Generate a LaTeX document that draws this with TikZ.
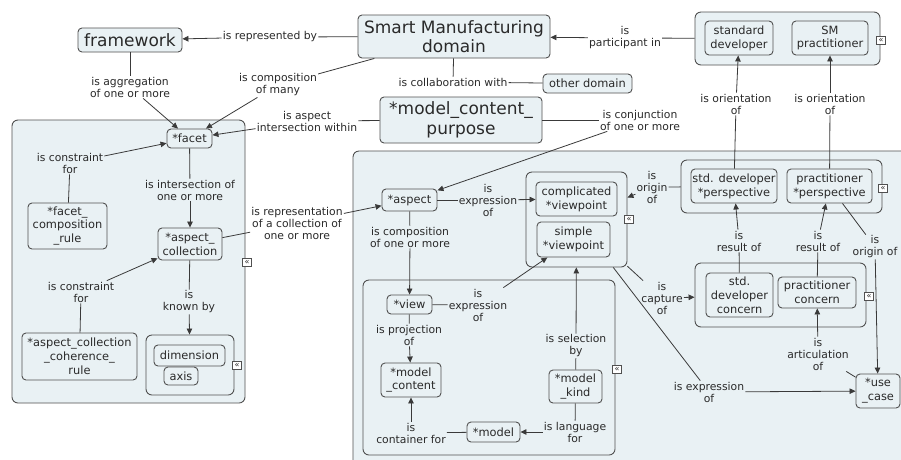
\documentclass[tikz,border=0pt]{standalone}
\usepackage{fontspec}
\setmainfont{DejaVu Sans}
\usetikzlibrary{arrows.meta}

\definecolor{boxfill}{HTML}{E9F1F4}
\definecolor{edgecol}{HTML}{505050}
\definecolor{linecol}{HTML}{3A3A3A}
\definecolor{ink}{HTML}{2A2A2A}

\begin{document}
\begin{tikzpicture}[x=1pt,y=-1pt,
  wh/.style 2 args={minimum width=#1pt, minimum height=#2pt},
  concept/.style={draw=edgecol, fill=boxfill, rounded corners=4pt, line width=0.9pt,
    align=center, inner sep=0pt, text=ink, font=\fontsize{11.4}{13.8}\selectfont},
  bigtext/.style={font=\fontsize{17}{19.5}\selectfont},
  grp/.style={draw=edgecol, fill=boxfill, rounded corners=6pt, line width=0.9pt, inner sep=0pt},
  lbl/.style={align=center, inner sep=1pt, text=ink, font=\fontsize{10.8}{12}\selectfont},
  icon/.style={draw=edgecol, fill=white, line width=0.5pt, minimum width=9pt, minimum height=8pt,
    inner sep=0pt, text=ink, font=\fontsize{8}{8}\selectfont},
  conn/.style={draw=linecol, line width=0.8pt},
  arr/.style={-{Triangle[length=6pt,width=5.5pt]}}
]
\useasboundingbox (0,0) rectangle (901,459);
\clip (0,0) rectangle (901,459);
\fill[white] (0,0) rectangle (901,459);

% ---- containers ----
\draw[grp] (353,151) rectangle (930,490);
\node[grp, wh={233}{283}] (leftc) at (128.5,261.5) {};
\node[icon] (ic1) at (247,262) {«};

% ---- top row ----
\node[concept, bigtext, wh={104}{24}] (fw) at (130,40) {framework};
\node[concept, bigtext, wh={192}{43}] (smd) at (454,36.5) {Smart Manufacturing\\domain};
\node[concept, wh={89}{19}] (other) at (587.5,83.5) {other domain};
\node[concept, bigtext, wh={162}{46}] (mcp) at (461,120) {*model\_content\_\\purpose};

\node[grp, wh={185}{53}] (sgrp) at (787.5,38.5) {};
\node[icon] (ic2) at (881,40) {«};
\node[concept, wh={68}{34}] (stddev) at (739,38) {standard\\developer};
\node[concept, wh={76}{34}] (smprac) at (830,38) {SM\\practitioner};

\node[lbl] (lrep) at (270,37) {is represented by};
\node[lbl] (lpart) at (625,38) {is\\participant in};
\node[lbl] (lcollab) at (453,82) {is collaboration with};
\node[lbl] (lagg) at (130,87) {is aggregation\\of one or more};
\node[lbl] (lcompm) at (278,85) {is composition\\of many};
\node[lbl] (laspi) at (307,121) {is aspect\\intersection within};
\node[lbl] (lconj) at (640,120) {is conjunction\\of one or more};

% ---- left container ----
\node[concept, wh={45}{19}] (facet) at (189.5,138.5) {*facet};
\node[concept, wh={79}{46}] (fcr) at (67.5,226) {*facet\_\\composition\\\_rule};
\node[concept, wh={64}{32}] (acoll) at (190,244) {*aspect\_\\collection};
\node[concept, wh={115}{47}] (accr) at (79.5,356.5) {*aspect\_collection\\\_coherence\_\\rule};
\node[grp, wh={88}{60}] (dgrp) at (190,365) {};
\node[icon] (ic3) at (237,365) {«};
\node[concept, wh={71}{21}] (dim) at (189.5,355.5) {dimension};
\node[concept, wh={34}{18}] (axis) at (181,376) {axis};

\node[lbl] (lcf1) at (70,163) {is constraint\\for};
\node[lbl] (linter) at (190,190) {is intersection of\\one or more};
\node[lbl] (lreprc) at (297,223) {is representation\\of a collection of\\one or more};
\node[lbl] (lcf2) at (81,292) {is constraint\\for};
\node[lbl] (lknown) at (189,302) {is\\known by};

% ---- right container ----
\node[concept, wh={55}{22}] (aspect) at (409.5,200) {*aspect};

\node[grp, wh={101}{95}] (vgrp) at (576.5,219.5) {};
\node[icon] (ic4) at (629,219) {«};
\node[concept, wh={81}{34}] (cvp) at (576.5,199) {complicated\\*viewpoint};
\node[concept, wh={73}{35}] (svp) at (573.5,239.5) {simple\\*viewpoint};

\node[grp, wh={201}{53}] (pgrp) at (781.5,186.5) {};
\node[icon] (ic5) at (883,188) {«};
\node[concept, wh={86}{34}] (sdp) at (734,186) {std. developer\\*perspective};
\node[concept, wh={85}{34}] (pp) at (829.5,186) {practitioner\\*perspective};

\node[grp, wh={171}{64}] (cgrp) at (780.5,295) {};
\node[icon] (ic6) at (869,296) {«};
\node[concept, wh={67}{44}] (sdc) at (739.5,295) {std.\\developer\\concern};
\node[concept, wh={78}{31}] (pc) at (817,292.5) {practitioner\\concern};

\node[concept, wh={44}{34}] (uc) at (878,391) {*use\\\_case};

\node[grp, wh={252}{175}] (viewgrp) at (489,367.5) {};
\node[icon] (ic7) at (617,369) {«};
\node[concept, wh={45}{19}] (view) at (409.5,304.5) {*view};
\node[concept, wh={60}{34}] (mc) at (411,380) {*model\\\_content};
\node[concept, wh={53}{20}] (model) at (493.5,432) {*model};
\node[concept, wh={53}{33}] (mk) at (575.5,386.5) {*model\\\_kind};

\node[lbl] (lexp1) at (488,200) {is\\expression\\of};
\node[lbl] (lorig1) at (652,187) {is\\origin\\of};
\node[lbl] (lor1) at (736,104) {is orientation\\of};
\node[lbl] (lor2) at (830,104) {is orientation\\of};
\node[lbl] (lres1) at (739,241) {is\\result of};
\node[lbl] (lres2) at (818,241) {is\\result of};
\node[lbl] (lorig2) at (875,247) {is\\origin of};
\node[lbl] (lcap) at (662,298) {is\\capture\\of};
\node[lbl] (lexp2) at (709,392) {is expression\\of};
\node[lbl] (lart) at (818,354) {is\\articulation\\of};
\node[lbl] (lcomp) at (410,237) {is composition\\of one or more};
\node[lbl] (lexp3) at (478,305) {is\\expression\\of};
\node[lbl] (lproj) at (409,335) {is projection\\of};
\node[lbl] (lcont) at (411,433) {is\\container for};
\node[lbl] (llang) at (575,432) {is language\\for};
\node[lbl] (lsel) at (576,346) {is selection\\by};

% ---- connectors ----
\draw[conn] (smd) -- (lrep);      \draw[conn,arr] (lrep) -- (fw);
\draw[conn] (sgrp) -- (lpart);    \draw[conn,arr] (lpart) -- (smd);
\draw[conn] (smd) -- (lcollab);   \draw[conn] (lcollab) -- (other);
\draw[conn] (fw) -- (lagg);       \draw[conn,arr] (lagg) -- (facet);
\draw[conn] (smd) -- (lcompm);    \draw[conn,arr] (lcompm) -- (facet);
\draw[conn] (mcp) -- (laspi);     \draw[conn,arr] (laspi) -- (facet);
\draw[conn] (mcp) -- (lconj);     \draw[conn,arr] (lconj) -- (aspect);

\draw[conn] (fcr) -- (lcf1);      \draw[conn,arr] (lcf1) -- (facet);
\draw[conn] (facet) -- (linter);  \draw[conn,arr] (linter) -- (acoll);
\draw[conn] (acoll) -- (lreprc);  \draw[conn,arr] (lreprc) -- (aspect);
\draw[conn] (accr) -- (lcf2);     \draw[conn,arr] (lcf2) -- (acoll);
\draw[conn] (acoll) -- (lknown);  \draw[conn,arr] (lknown) -- (dgrp);

\draw[conn] (aspect) -- (lexp1);  \draw[conn,arr] (lexp1) -- (cvp);
\draw[conn] (pgrp) -- (lorig1);   \draw[conn,arr] (lorig1) -- (vgrp);
\draw[conn] (sdp) -- (lor1);      \draw[conn,arr] (lor1) -- (stddev);
\draw[conn] (pp) -- (lor2);       \draw[conn,arr] (lor2) -- (smprac);
\draw[conn] (sdc) -- (lres1);     \draw[conn,arr] (lres1) -- (sdp);
\draw[conn] (pc) -- (lres2);      \draw[conn,arr] (lres2) -- (pp);
\draw[conn] (pp) -- (lorig2);     \draw[conn,arr] (lorig2) -- (uc);
\draw[conn] (vgrp) -- (lcap);     \draw[conn,arr] (lcap) -- (cgrp);
\draw[conn] (vgrp) -- (lexp2);    \draw[conn,arr] (lexp2) -- (uc);
\draw[conn] (uc) -- (lart);       \draw[conn,arr] (lart) -- (pc);

\draw[conn] (aspect) -- (lcomp);  \draw[conn,arr] (lcomp) -- (view);
\draw[conn] (view) -- (lexp3);    \draw[conn,arr] (lexp3) -- (svp);
\draw[conn] (view) -- (lproj);    \draw[conn,arr] (lproj) -- (mc);
\draw[conn] (model) -- (lcont);   \draw[conn,arr] (lcont) -- (mc);
\draw[conn] (mk) -- (llang);      \draw[conn,arr] (llang) -- (model);
\draw[conn] (mk) -- (lsel);       \draw[conn,arr] (lsel) -- (vgrp);
\end{tikzpicture}
\end{document}
